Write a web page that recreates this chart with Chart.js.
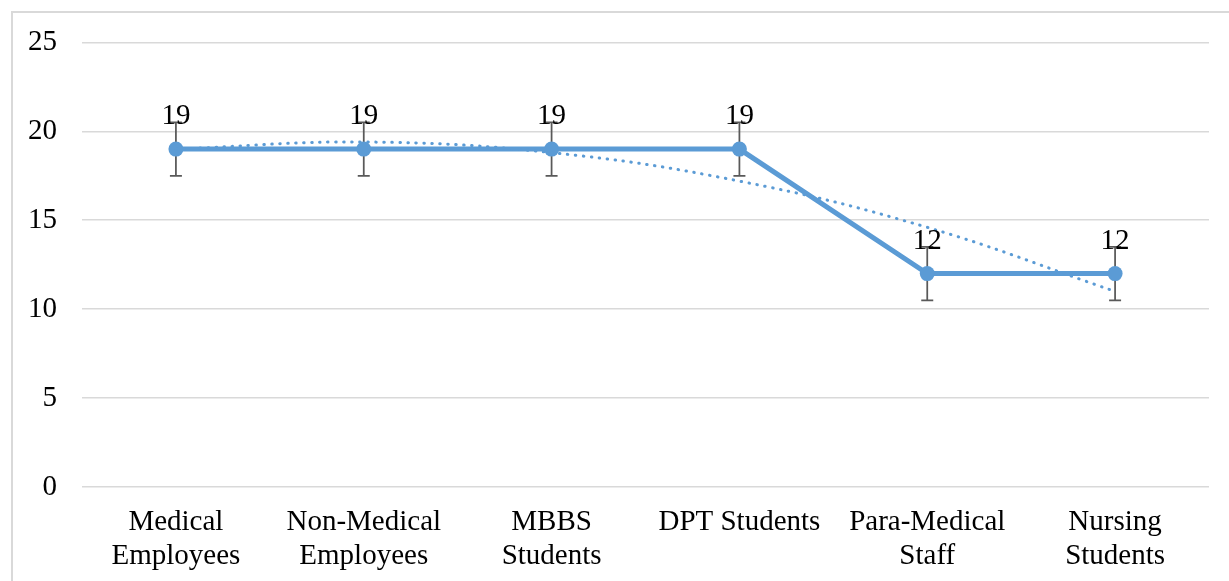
<!DOCTYPE html>
<html>
<head>
<meta charset="utf-8">
<script src="https://cdn.jsdelivr.net/npm/chart.js@4/dist/chart.umd.min.js"></script>
<style>
    html, body { margin: 0; padding: 0; background: #fff; }
    #wrap { position: relative; width: 1229px; height: 581px; overflow: hidden; }
    #marco { position: absolute; left: 11px; top: 11px; width: 1240px; height: 600px; border: 2px solid #d9d9d9; box-sizing: border-box; }
    canvas { position: absolute; left: 0; top: 0; }
</style>
</head>
<body>
<div id="wrap">
    <div id="marco"></div>
    <canvas id="grafico" width="1229" height="581"></canvas>
</div>
<script>
// Datos
const categorias = [
    ['Medical', 'Employees'],
    ['Non-Medical', 'Employees'],
    ['MBBS', 'Students'],
    ['DPT Students'],
    ['Para-Medical', 'Staff'],
    ['Nursing', 'Students']
];
const valores = [19, 19, 19, 19, 12, 12];
const errores = [1.5, 1.5, 1.5, 1.5, 1.5, 1.5];   // barras de error (+/-)
const tendencia = [19.0, 19.4, 18.8, 17.2, 14.6, 11.0]; // línea de tendencia punteada
const ticksY = [0, 5, 10, 15, 20, 25];

const azul = '#5b9bd5';
const fuente = 'Liberation Serif, Times New Roman, serif';

// Dibuja las barras de error detrás de la serie
const barrasError = {
    id: 'barrasError',
    beforeDatasetsDraw(chart) {
        const ctx = chart.ctx;
        const y = chart.scales.y;
        const meta = chart.getDatasetMeta(1);
        ctx.save();
        ctx.strokeStyle = '#595959';
        ctx.lineWidth = 1.75;
        meta.data.forEach((p, i) => {
            const arriba = y.getPixelForValue(valores[i] + errores[i]);
            const abajo = y.getPixelForValue(valores[i] - errores[i]);
            ctx.beginPath();
            ctx.moveTo(p.x, arriba);
            ctx.lineTo(p.x, abajo);
            ctx.moveTo(p.x - 6, arriba);
            ctx.lineTo(p.x + 6, arriba);
            ctx.moveTo(p.x - 6, abajo);
            ctx.lineTo(p.x + 6, abajo);
            ctx.stroke();
        });
        ctx.restore();
    }
};

// Etiquetas de valor encima de cada punto
const etiquetas = {
    id: 'etiquetas',
    afterDatasetsDraw(chart) {
        const ctx = chart.ctx;
        const meta = chart.getDatasetMeta(1);
        ctx.save();
        ctx.font = '29px ' + fuente;
        ctx.fillStyle = '#000';
        ctx.textAlign = 'center';
        ctx.textBaseline = 'alphabetic';
        meta.data.forEach((p, i) => {
            ctx.fillText(String(valores[i]), p.x, p.y - 25);
        });
        ctx.restore();
    }
};

const ctx = document.getElementById('grafico').getContext('2d');
new Chart(ctx, {
    type: 'line',
    data: {
        labels: categorias,
        datasets: [
            {
                label: 'Tendencia',
                data: tendencia,
                borderColor: azul,
                borderWidth: 3,
                borderDash: [0.5, 7.5],
                borderCapStyle: 'round',
                pointRadius: 0,
                tension: 0.4,
                fill: false
            },
            {
                label: 'Serie',
                data: valores,
                borderColor: azul,
                backgroundColor: azul,
                borderWidth: 5,
                pointRadius: 7.5,
                pointBackgroundColor: azul,
                pointBorderWidth: 0,
                tension: 0,
                fill: false
            }
        ]
    },
    options: {
        responsive: false,
        animation: false,
        layout: { padding: { top: 41, right: 20, bottom: 0, left: 0 } },
        plugins: {
            legend: { display: false },
            tooltip: { enabled: false }
        },
        scales: {
            x: {
                offset: true,
                grid: { display: false, drawTicks: false },
                border: { display: false },
                ticks: {
                    color: '#000',
                    font: { family: fuente, size: 29, lineHeight: 1.15 },
                    padding: 19,
                    maxRotation: 0,
                    autoSkip: false
                },
                afterFit(scale) { scale.height = 94; }
            },
            y: {
                min: 0,
                max: 25,
                afterBuildTicks(scale) { scale.ticks = ticksY.map(v => ({ value: v })); },
                grid: { color: '#d9d9d9', lineWidth: 1.5, drawTicks: false },
                border: { display: false },
                ticks: {
                    color: '#000',
                    font: { family: fuente, size: 29 },
                    padding: 25
                },
                afterFit(scale) { scale.width = 82; }
            }
        }
    },
    plugins: [barrasError, etiquetas]
});
</script>
</body>
</html>
